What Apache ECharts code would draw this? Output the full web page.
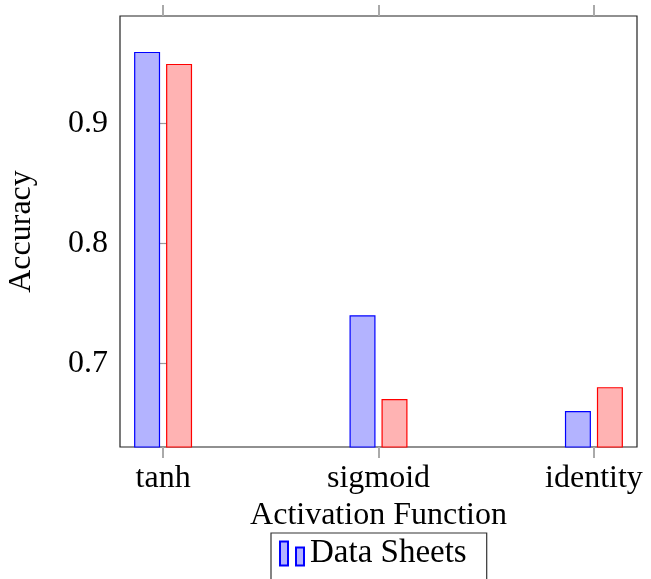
<!DOCTYPE html>
<html>
<head>
<meta charset="utf-8">
<script src="https://cdn.jsdelivr.net/npm/echarts@6/dist/echarts.min.js"></script>
<style>
  html, body { margin: 0; padding: 0; background: #fff; }
  #chart { width: 651px; height: 579px; }
</style>
</head>
<body>
<div id="chart"></div>
<script>
// Activation functions on the x axis and accuracy per function
const categories = ['tanh', 'sigmoid', 'identity'];
const dataSheets = [0.96, 0.74, 0.66];
const secondRun = [0.95, 0.67, 0.68];
const yTicks = [0.7, 0.8, 0.9];
const yTickLabels = ['0.7', '0.8', '0.9'];

const FONT = 'Liberation Serif';
const catPositions = categories.map((_, i) => i);

const chart = echarts.init(document.getElementById('chart'), null, { renderer: 'canvas' });

chart.setOption({
  animation: false,
  backgroundColor: '#fff',
  grid: {
    left: 120, right: 14, top: 16, bottom: 132,
    outerBoundsMode: 'none',
    containLabel: false,
    show: true, borderColor: '#222', borderWidth: 1.2, backgroundColor: 'transparent'
  },
  xAxis: [{
    type: 'value',
    min: -0.2, max: 2.2,
    position: 'bottom',
    name: 'Activation Function',
    nameLocation: 'middle',
    nameGap: 46,
    nameTextStyle: { fontFamily: FONT, fontSize: 32, color: '#000' },
    axisLine: { show: false },
    splitLine: { show: false },
    axisTick: { show: true, inside: false, length: 11, customValues: catPositions,
      lineStyle: { color: '#aaa', width: 2 } },
    axisLabel: { show: true, customValues: catPositions, margin: 16,
      fontFamily: FONT, fontSize: 32, color: '#000',
      formatter: v => categories[Math.round(v)] }
  }, {
    type: 'value',
    min: -0.2, max: 2.2,
    position: 'top',
    axisLine: { show: false },
    splitLine: { show: false },
    axisTick: { show: true, inside: false, length: 11, customValues: catPositions,
      lineStyle: { color: '#aaa', width: 2 } },
    axisLabel: { show: false }
  }],
  yAxis: [{
    type: 'value',
    min: 0.63, max: 0.99,
    position: 'left',
    name: 'Accuracy',
    nameLocation: 'middle',
    nameRotate: 90,
    nameGap: 82,
    nameTextStyle: { fontFamily: FONT, fontSize: 32, color: '#000' },
    axisLine: { show: false },
    splitLine: { show: false },
    axisTick: { show: true, inside: true, length: 10, customValues: yTicks,
      lineStyle: { color: '#999', width: 1.2 } },
    axisLabel: { show: true, customValues: yTicks, margin: 12,
      fontFamily: FONT, fontSize: 32, color: '#000',
      formatter: v => yTickLabels[yTicks.findIndex(t => Math.abs(t - v) < 1e-9)] }
  }, {
    type: 'value',
    min: 0.63, max: 0.99,
    position: 'right',
    axisLine: { show: false },
    splitLine: { show: false },
    axisTick: { show: true, inside: true, length: 10, customValues: yTicks,
      lineStyle: { color: '#999', width: 1.2 } },
    axisLabel: { show: false }
  }],
  legend: {
    data: [{ name: 'Data Sheets', icon: 'path://M0,0H8V24H0Z M16,6H24V24H16Z' }],
    left: 271, top: 533,
    orient: 'horizontal',
    itemWidth: 24, itemHeight: 24,
    itemGap: 5,
    padding: [4, 20, 30, 8],
    borderColor: '#333', borderWidth: 1.2,
    textStyle: { fontFamily: FONT, fontSize: 33, color: '#000', width: 163, padding: [0, 0, 0, 1] }
  },
  series: [{
    name: 'Data Sheets',
    type: 'bar',
    xAxisIndex: 0, yAxisIndex: 0,
    barWidth: 26,
    barGap: '23%',
    itemStyle: { color: 'rgb(179,179,255)', borderColor: '#0000ff', borderWidth: 1.2 },
    data: dataSheets.map((v, i) => [catPositions[i], v])
  }, {
    name: 'Second run',
    type: 'bar',
    xAxisIndex: 0, yAxisIndex: 0,
    barWidth: 26,
    barGap: '23%',
    itemStyle: { color: 'rgb(255,179,179)', borderColor: '#ff0000', borderWidth: 1.2 },
    data: secondRun.map((v, i) => [catPositions[i], v])
  }]
});
</script>
</body>
</html>
